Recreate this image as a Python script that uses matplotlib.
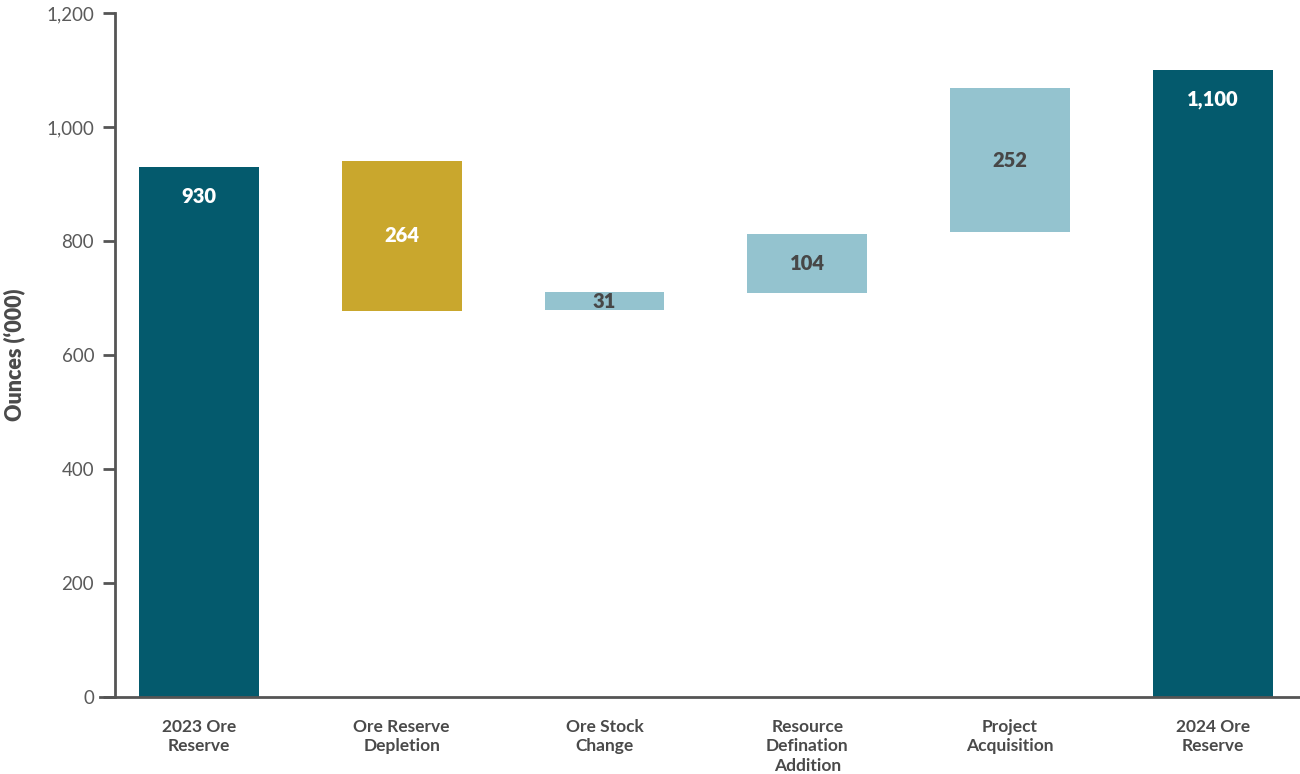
import matplotlib
matplotlib.use("Agg")
import matplotlib.pyplot as plt

plt.rcParams['font.family'] = ['Lato', 'DejaVu Sans']

# waterfall steps: labels, stated values and where each floating bar starts
categories = ["2023 Ore\nReserve", "Ore Reserve\nDepletion", "Ore Stock\nChange",
              "Resource\nDefination\nAddition", "Project\nAcquisition", "2024 Ore\nReserve"]
values = [930, 264, 31, 104, 252, 1100]
bases = [0, 677, 679, 709, 816, 0]
value_labels = ["930", "264", "31", "104", "252", "1,100"]
kinds = ["total", "down", "up", "up", "up", "total"]

y_ticks = [0, 200, 400, 600, 800, 1000, 1200]
y_tick_labels = ["0", "200", "400", "600", "800", "1,000", "1,200"]

colors = {"total": "#045a6d", "down": "#c9a72d", "up": "#94c3cf"}
text_colors = {"total": "white", "down": "white", "up": "#474747"}
axis_grey = "#555555"

fig = plt.figure(figsize=(13, 7.74), dpi=100)
ax = fig.add_axes([115 / 1300, 77 / 774, 1185 / 1300, 684 / 774])

x = list(range(len(categories)))
ax.bar(x, values, bottom=bases, width=0.59,
       color=[colors[k] for k in kinds], linewidth=0)

for i, (v, b, lab, k) in enumerate(zip(values, bases, value_labels, kinds)):
    if k == "total":
        # totals get their label near the top of the bar
        ax.annotate(lab, (i, b + v), xytext=(0, -21), textcoords="offset points",
                    ha="center", va="center", fontsize=14.5, fontweight="heavy",
                    color=text_colors[k])
    else:
        ax.text(i, b + v / 2, lab, ha="center", va="center", fontsize=14.5,
                fontweight="heavy", color=text_colors[k])

ax.set_xlim(-0.414, 5.43)
ax.set_ylim(0, 1200)
ax.set_yticks(y_ticks)
ax.set_yticklabels(y_tick_labels)
ax.set_xticks(x)
ax.set_xticklabels(categories, fontsize=12.5, fontweight="bold", color="#4a4a4a",
                   linespacing=1.25, va="top")

ax.tick_params(axis="y", length=9, width=2, color=axis_grey, labelsize=13.5,
               labelcolor="#5a5a5a", pad=6, direction="out")
ax.tick_params(axis="x", length=0, pad=16)

for side in ("top", "right"):
    ax.spines[side].set_visible(False)
for side in ("left", "bottom"):
    ax.spines[side].set_color(axis_grey)
    ax.spines[side].set_linewidth(2)
ax.spines["bottom"].set_bounds(-0.49, 5.43)

ax.set_ylabel("Ounces (\u2018000)", fontsize=15.5, fontweight="heavy", color="#4a4a4a")
ax.yaxis.set_label_coords(-0.076, 0.5)

fig.savefig("out.png", dpi=100)
